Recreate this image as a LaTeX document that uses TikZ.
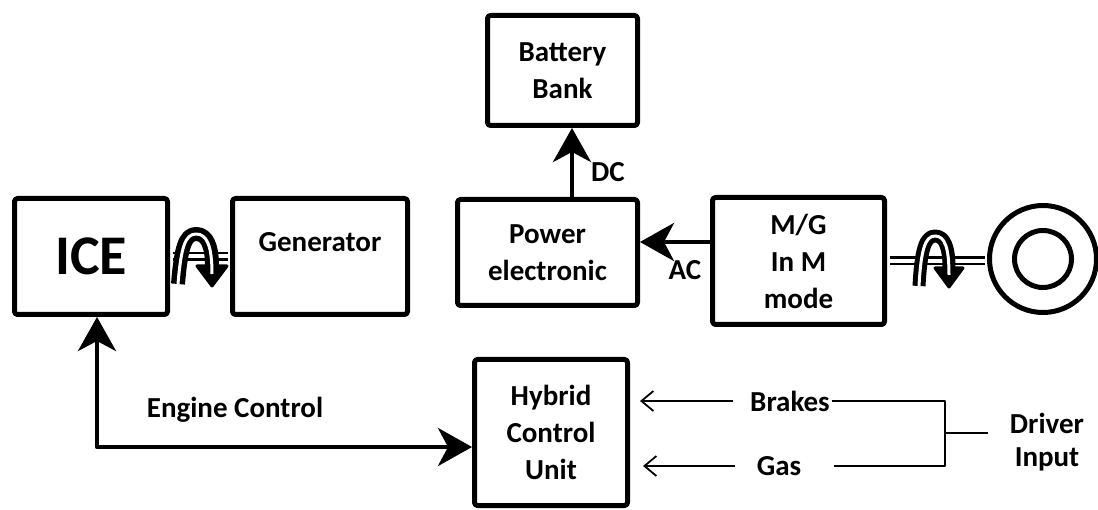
\documentclass[tikz,border=0pt]{standalone}
\usepackage{fontspec}
\setmainfont{Carlito}
\usetikzlibrary{arrows.meta,positioning,calc}
\newcommand\blkfont{\fontsize{29}{37}\selectfont\bfseries}
\newcommand\icefont{\fontsize{56}{60}\selectfont\bfseries}
\tikzset{
  blk/.style={draw, line width=5pt, rounded corners=3pt, align=center, inner sep=0pt, font=\blkfont},
  lbl/.style={font=\blkfont, inner sep=2pt, align=center},
  bigtip/.tip={Stealth[length=34pt,width=38pt,inset=10pt]},
  bigarr/.style={line width=4.5pt},
  thinarr/.style={line width=1.8pt, -{Straight Barb[length=12pt,width=20pt]}},
  thinline/.style={line width=1.8pt},
  shaft/.style={double, double distance=4pt, line width=2.5pt, shorten <=2.5pt, shorten >=2.5pt},
  ring/.style={draw, circle, line width=5pt, inner sep=0pt}
}

\begin{document}
\begin{tikzpicture}[x=1pt,y=-1pt, line join=round]
\useasboundingbox (0,0) rectangle (1098,510);

% Blocks
\node[blk, minimum width=153pt, minimum height=116pt, font=\icefont] (ice) at (91,256.5) {ICE};
\node[blk, minimum width=175pt, minimum height=116pt, text height=20pt, text depth=30pt] (gen) at (320,256.5) {Generator};
\node[blk, minimum width=150pt, minimum height=110pt] (bat) at (562.5,70.5) {Battery\\Bank};
\node[blk, minimum width=180pt, minimum height=106pt] (pe) at (547.5,252.5) {Power\\electronic};
\node[blk, minimum width=172pt, minimum height=127pt] (mg) at (798.5,261) {M/G\\In M\\mode};
\node[blk, minimum width=153pt, minimum height=146pt] (hcu) at (551,432.5) {Hybrid\\Control\\Unit};

% Wheel
\node[ring, minimum size=107pt] (wheel) at (1043,259) {};
\node[ring, minimum size=57pt] (hub) at (wheel.center) {};

% Labels
\node[lbl] (dc) at (608,172) {DC};
\node[lbl] (ac) at (685,270) {AC};
\node[lbl] (engctl) at (235,410) {Engine Control};
\node[lbl] (brakes) at (790,401) {Brakes};
\node[lbl] (gas) at (779,466) {Gas};
\node[lbl, font=\fontsize{29}{33}\selectfont\bfseries] (driver) at (1047,442) {Driver\\Input};
\coordinate (jn) at (945,433);
\coordinate (jnend) at (988,433);

% Shafts
\draw[shaft] (ice.east) -- (gen.west);
\draw[shaft] (mg.east) -- (mg.east -| wheel.west);

% Power flow
\draw[bigarr, -{bigtip}] ([xshift=24.5pt]pe.north) -- ([xshift=24.5pt]pe.north |- bat.south);
\draw[bigarr, -{bigtip}] ([yshift=19pt]mg.west) -- ([yshift=19pt]mg.west -| pe.east);
\draw[bigarr, {bigtip}-{bigtip}] ([xshift=6pt]ice.south) |- ([yshift=-14.5pt]hcu.west);

% Driver input
\draw[thinarr, shorten <=15pt, shorten >=10pt] (brakes.west) -- (brakes.west -| hcu.east);
\draw[thinarr, shorten <=20pt, shorten >=13pt] (gas.west) -- (gas.west -| hcu.east);
\draw[thinline] (brakes.east) -| (jn) |- ([xshift=31pt]gas.east);
\draw[thinline] (jn) -- (jnend);

% Rotation symbol, ICE side
\begin{scope}[shift={(197,258)}]
  \draw[line width=14pt] (-19,26) .. controls (-16,-10) and (-12,-24) .. (-1,-24)
        .. controls (10,-24) and (15,-12) .. (15,8);
  \filldraw[line width=3pt] (0,8) -- (30,8) -- (15,28) -- cycle;
  \draw[white, line width=3pt] (-19,26) .. controls (-16,-10) and (-12,-24) .. (-1,-24)
        .. controls (10,-24) and (15,-12) .. (15,16);
\end{scope}

% Rotation symbol, wheel side
\begin{scope}[shift={(935,260)}]
  \draw[line width=13pt] (-16,26) .. controls (-14,-10) and (-10,-24) .. (0,-24)
        .. controls (10,-24) and (14,-12) .. (14,8);
  \filldraw[line width=3pt] (0,8) -- (28,8) -- (14,27) -- cycle;
  \draw[white, line width=3pt] (-16,26) .. controls (-14,-10) and (-10,-24) .. (0,-24)
        .. controls (10,-24) and (14,-12) .. (14,15);
\end{scope}
\end{tikzpicture}
\end{document}
